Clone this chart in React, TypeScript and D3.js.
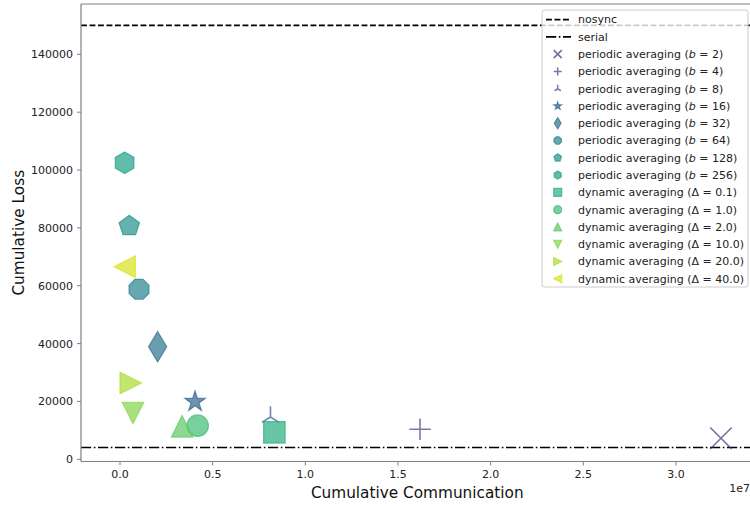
import React from "react";
import * as d3 from "d3";

// Periodic averaging runs: batch size b, total communication and cumulative loss
const periodicB = [2, 4, 8, 16, 32, 64, 128, 256];
const periodicComm = [3.243e7, 1.619e7, 0.812e7, 0.405e7, 0.203e7, 0.1025e7, 0.05e7, 0.025e7];
const periodicLoss = [7260, 10370, 14620, 19910, 38930, 58770, 80650, 102540];
const periodicMarkers = ["x", "+", "2", "*", "d", "8", "p", "h"];

// Dynamic averaging runs: divergence threshold Δ
const dynamicDelta = ["0.1", "1.0", "2.0", "10.0", "20.0", "40.0"];
const dynamicComm = [0.833e7, 0.419e7, 0.335e7, 0.07e7, 0.058e7, 0.025e7];
const dynamicLoss = [9330, 11620, 11410, 16010, 26380, 66580];
const dynamicMarkers = ["s", "o", "^", "v", ">", "<"];

// Reference baselines
const nosyncLoss = 150000;
const serialLoss = 4100;

const xTicks = [0, 0.5e7, 1.0e7, 1.5e7, 2.0e7, 2.5e7, 3.0e7];
const yTicks = [0, 20000, 40000, 60000, 80000, 100000, 120000, 140000];

const W = 750;
const H = 506;
const FONT = "DejaVu Sans, Liberation Sans, sans-serif";

const plot = { left: 81, right: 753.5, top: 4, bottom: 461.5 };

const x = d3.scaleLinear().domain([-0.2105e7, 3.4185e7]).range([plot.left, plot.right]);
const y = d3.scaleLinear().domain([-760, 157400]).range([plot.bottom, plot.top]);

const LINE_MARKERS = new Set(["x", "+", "2"]);

function polygon(n: number, r: number, rot = 0): string {
  const pts: [number, number][] = [];
  for (let k = 0; k < n; k++) {
    const a = -Math.PI / 2 + rot + (2 * Math.PI * k) / n;
    pts.push([r * Math.cos(a), r * Math.sin(a)]);
  }
  return "M" + pts.map((p) => p.join(",")).join("L") + "Z";
}

function markerPath(kind: string, ms: number): string {
  const h = ms / 2;
  switch (kind) {
    case "x":
      return `M${-h},${-h}L${h},${h}M${-h},${h}L${h},${-h}`;
    case "+":
      return `M${-h},0L${h},0M0,${-h}L0,${h}`;
    case "2":
      return `M0,0L0,${-h}M0,0L${0.8 * h},${0.5 * h}M0,0L${-0.8 * h},${0.5 * h}`;
    case "*": {
      const pts: string[] = [];
      for (let k = 0; k < 10; k++) {
        const r = k % 2 === 0 ? h : h * 0.381966;
        const a = -Math.PI / 2 + (Math.PI * k) / 5;
        pts.push(`${r * Math.cos(a)},${r * Math.sin(a)}`);
      }
      return "M" + pts.join("L") + "Z";
    }
    case "d": {
      const vy = 0.7071 * ms;
      const vx = 0.7071 * ms * 0.6;
      return `M0,${-vy}L${vx},0L0,${vy}L${-vx},0Z`;
    }
    case "8":
      return polygon(8, h, Math.PI / 8);
    case "p":
      return polygon(5, h);
    case "h":
      return polygon(6, h);
    case "s":
      return `M${-h},${-h}L${h},${-h}L${h},${h}L${-h},${h}Z`;
    case "o":
      return `M${h},0A${h},${h} 0 1 1 ${-h},0A${h},${h} 0 1 1 ${h},0Z`;
    case "^":
      return `M0,${-h}L${h},${h}L${-h},${h}Z`;
    case "v":
      return `M0,${h}L${h},${-h}L${-h},${-h}Z`;
    case ">":
      return `M${h},0L${-h},${h}L${-h},${-h}Z`;
    case "<":
      return `M${-h},0L${h},${-h}L${h},${h}Z`;
    default:
      return "";
  }
}

type Series = {
  label: React.ReactNode;
  marker: string;
  color: string;
  cx: number;
  cy: number;
};

const series: Series[] = [
  ...periodicB.map((b, i) => ({
    label: (
      <>
        periodic averaging (<tspan fontStyle="italic">b</tspan>
        {" = " + b})
      </>
    ),
    marker: periodicMarkers[i],
    color: d3.interpolateViridis((i + 2) / 16),
    cx: periodicComm[i],
    cy: periodicLoss[i],
  })),
  ...dynamicDelta.map((dl, i) => ({
    label: <>{"dynamic averaging (Δ = " + dl + ")"}</>,
    marker: dynamicMarkers[i],
    color: d3.interpolateViridis((i + 10) / 16),
    cx: dynamicComm[i],
    cy: dynamicLoss[i],
  })),
];

function Marker({ kind, color, ms, tx, ty }: { kind: string; color: string; ms: number; tx: number; ty: number }) {
  const line = LINE_MARKERS.has(kind);
  return (
    <path
      d={markerPath(kind, ms)}
      transform={`translate(${tx},${ty})`}
      fill={line ? "none" : color}
      fillOpacity={0.7}
      stroke={color}
      strokeOpacity={0.7}
      strokeWidth={line ? 1.6 : 1.2}
    />
  );
}

export default function App() {
  const MS = 21.5;
  const legendX = 542;
  const legendY = 10;
  const legendW = 206;
  const legendH = 277;
  const row0 = 19.6;
  const rowStep = 17.28;

  return (
    <div style={{ position: "absolute", left: 0, top: 0 }}>
      <svg width={W} height={H} style={{ display: "block", background: "#fff" }} fontFamily={FONT}>
        <defs>
          <clipPath id="plotArea">
            <rect x={plot.left} y={plot.top} width={plot.right - plot.left} height={plot.bottom - plot.top} />
          </clipPath>
        </defs>

        {/* baselines */}
        <g clipPath="url(#plotArea)">
          <line
            x1={plot.left}
            x2={plot.right}
            y1={y(nosyncLoss)}
            y2={y(nosyncLoss)}
            stroke="#000"
            strokeWidth={1.6}
            strokeDasharray="5.9,2.6"
          />
          <line
            x1={plot.left}
            x2={plot.right}
            y1={y(serialLoss)}
            y2={y(serialLoss)}
            stroke="#000"
            strokeWidth={1.6}
            strokeDasharray="10.2,2.6,1.6,2.6"
          />
          {series.map((s, i) => (
            <Marker key={i} kind={s.marker} color={s.color} ms={MS} tx={x(s.cx)} ty={y(s.cy)} />
          ))}
        </g>

        {/* spines */}
        <g stroke="#808080" strokeWidth={1.2} fill="none">
          <line x1={plot.left} x2={plot.left} y1={plot.top} y2={plot.bottom} />
          <line x1={plot.left} x2={plot.right} y1={plot.bottom} y2={plot.bottom} />
          <line x1={plot.left} x2={plot.right} y1={plot.top} y2={plot.top} />
          <line x1={plot.right} x2={plot.right} y1={plot.top} y2={plot.bottom} />
        </g>

        {/* x axis */}
        <g fontSize={11} fill="#222">
          {xTicks.map((t) => (
            <g key={t}>
              <line x1={x(t)} x2={x(t)} y1={plot.bottom} y2={plot.bottom + 4} stroke="#808080" strokeWidth={1} />
              <text x={x(t)} y={477.5} textAnchor="middle">
                {d3.format(".1f")(t / 1e7)}
              </text>
            </g>
          ))}
          <text x={750} y={491.5} textAnchor="end">
            1e7
          </text>
        </g>

        {/* y axis */}
        <g fontSize={11} fill="#222">
          {yTicks.map((t) => (
            <g key={t}>
              <line x1={plot.left - 4} x2={plot.left} y1={y(t)} y2={y(t)} stroke="#808080" strokeWidth={1} />
              <text x={73} y={y(t) + 4} textAnchor="end">
                {t}
              </text>
            </g>
          ))}
        </g>

        {/* axis titles */}
        <text x={(plot.left + plot.right) / 2} y={498} textAnchor="middle" fontSize={15.3} fill="#111">
          Cumulative Communication
        </text>
        <text transform={`translate(24,${(plot.top + plot.bottom) / 2}) rotate(-90)`} textAnchor="middle" fontSize={15.3} fill="#111">
          Cumulative Loss
        </text>

        {/* legend */}
        <g>
          <rect
            x={legendX}
            y={legendY}
            width={legendW}
            height={legendH}
            rx={2.5}
            fill="#fff"
            fillOpacity={0.8}
            stroke="#cccccc"
            strokeWidth={1}
          />
          <g fontSize={11} fill="#222">
            <line x1={546} x2={571} y1={row0} y2={row0} stroke="#000" strokeWidth={1.6} strokeDasharray="5.9,2.6" />
            <text x={578} y={row0} dy="0.35em">
              nosync
            </text>
            <line
              x1={546}
              x2={571}
              y1={row0 + rowStep}
              y2={row0 + rowStep}
              stroke="#000"
              strokeWidth={1.6}
              strokeDasharray="10.2,2.6,1.6,2.6"
            />
            <text x={578} y={row0 + rowStep} dy="0.35em">
              serial
            </text>
            {series.map((s, i) => {
              const ry = row0 + rowStep * (i + 2);
              return (
                <g key={i}>
                  <Marker kind={s.marker} color={s.color} ms={8} tx={557.7} ty={ry} />
                  <text x={578} y={ry} dy="0.35em">
                    {s.label}
                  </text>
                </g>
              );
            })}
          </g>
        </g>
      </svg>
    </div>
  );
}
